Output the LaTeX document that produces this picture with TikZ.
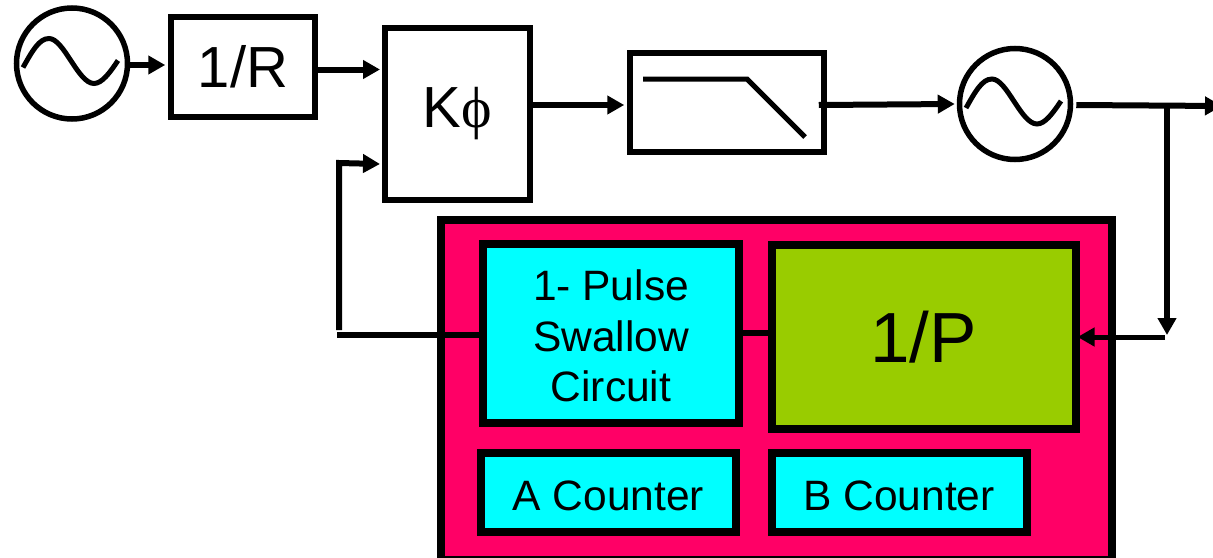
\documentclass[tikz,border=0pt]{standalone}
\usepackage{fontspec}
\setmainfont{Liberation Sans}
\newfontfamily\phifont{Liberation Serif}
\usetikzlibrary{arrows.meta}
\definecolor{shellpink}{HTML}{FF0066}
\definecolor{blockcyan}{HTML}{00FFFF}
\definecolor{blockgreen}{HTML}{99CC00}
\tikzset{
  blockbox/.style={draw=black,line width=5.5pt,minimum width=#1,inner sep=0pt},
  counterbox/.style={draw=black,line width=8pt,fill=blockcyan,inner sep=0pt,
    font=\fontsize{42.5}{50.3}\selectfont,align=center,text height=36pt},
  oscbox/.style={draw=black,circle,line width=5.5pt,minimum size=111pt,inner sep=0pt},
  conn/.style={line width=6pt,-{Triangle[length=17pt,width=18pt]}},
  wire/.style={line width=6pt},
  wave/.style={line width=5pt}
}

\begin{document}
\begin{tikzpicture}[x=1pt,y=-1pt]
  \useasboundingbox (0,0) rectangle (1213,557);
  % pink shell and what sits inside it
  \node[draw=black,line width=8pt,fill=shellpink,minimum width=671pt,minimum height=340pt,inner sep=0pt] (shell) at (776.5,390) {};
  \node[counterbox,text height=,minimum width=256pt,minimum height=179pt] (swallow) at (611,333.5) {\rule{0pt}{36pt}1- Pulse\\Swallow\\Circuit};
  \node[counterbox,fill=blockgreen,minimum width=304pt,minimum height=184pt,font=\fontsize{71}{84}\selectfont,text height=51pt] (divp) at (923.5,337) {1/P};
  \node[counterbox,minimum width=255pt,minimum height=79pt] (acount) at (608.5,492.5) {A Counter};
  \node[counterbox,minimum width=255pt,minimum height=79pt] (bcount) at (899,492.5) {B Counter};

  % top row
  \node[oscbox] (oscref) at (72,63.5) {};
  \node[blockbox=144pt,minimum height=100pt,font=\fontsize{58}{60}\selectfont] (divr) at (243,67) {1/R};
  \node[blockbox=145pt,minimum height=172pt,line width=6pt,font=\fontsize{58}{60}\selectfont] (pfd) at (457.5,114) {K{\phifont ϕ}};
  \node[blockbox=194pt,minimum height=99pt] (lpf) at (727,102.5) {};
  \node[oscbox] (oscvco) at (1015,104) {};

  % sine waves and filter curve
  \foreach \osc in {oscref,oscvco}
    \draw[wave,shift={(\osc.center)}] (-49,4) .. controls (-40,-12) and (-33,-25) .. (-23,-25)
      .. controls (-8,-25) and (6,20) .. (22,20) .. controls (30,20) and (38,9) .. (46,-3);
  \draw[wave] (lpf.center) ++(-84,-23.5) -- ++(104,0) -- ++(58,58);

  % free ends of the connectors
  \coordinate (outend) at (1222,106);
  \coordinate (tap) at (1167,105.5);
  \coordinate (tapend) at (1167,335);
  \coordinate (backstart) at (1165,337);
  \coordinate (fbcorner) at (339,163);
  \coordinate (fbbottom) at (339,330);
  \coordinate (fbleft) at (337,335);

  \draw[conn] ([yshift=-1.5pt]oscref.east) -- ([xshift=-3pt,yshift=2pt]divr.west);
  \draw[conn] ([xshift=-2pt,yshift=-2.5pt]divr.east) -- ([xshift=-2pt,yshift=44.5pt]pfd.west);
  \draw[conn] ([yshift=9pt]pfd.east) -- ([xshift=-3pt,yshift=9pt]pfd.east -| lpf.west);
  \draw[conn] ([xshift=-8pt,yshift=-2.5pt]lpf.east) -- ([xshift=-2pt]oscvco.west);
  \draw[conn] ([xshift=3pt,yshift=-1pt]oscvco.east) -- (outend);
  \draw[conn,line width=5.5pt] (tap) -- (tapend);
  \draw[conn,line width=5pt] (backstart) -- ([xshift=-2pt]divp.east);
  \draw[wire] (swallow.east |- divp.center) ++(0,-4) -- ([yshift=4pt]divp.west);
  \draw[wire] (fbleft) -- ([yshift=-1.5pt]swallow.west);
  \draw[conn] (fbbottom) -- (fbcorner) -- ([xshift=-2pt,yshift=-50pt]pfd.west);
\end{tikzpicture}
\end{document}
